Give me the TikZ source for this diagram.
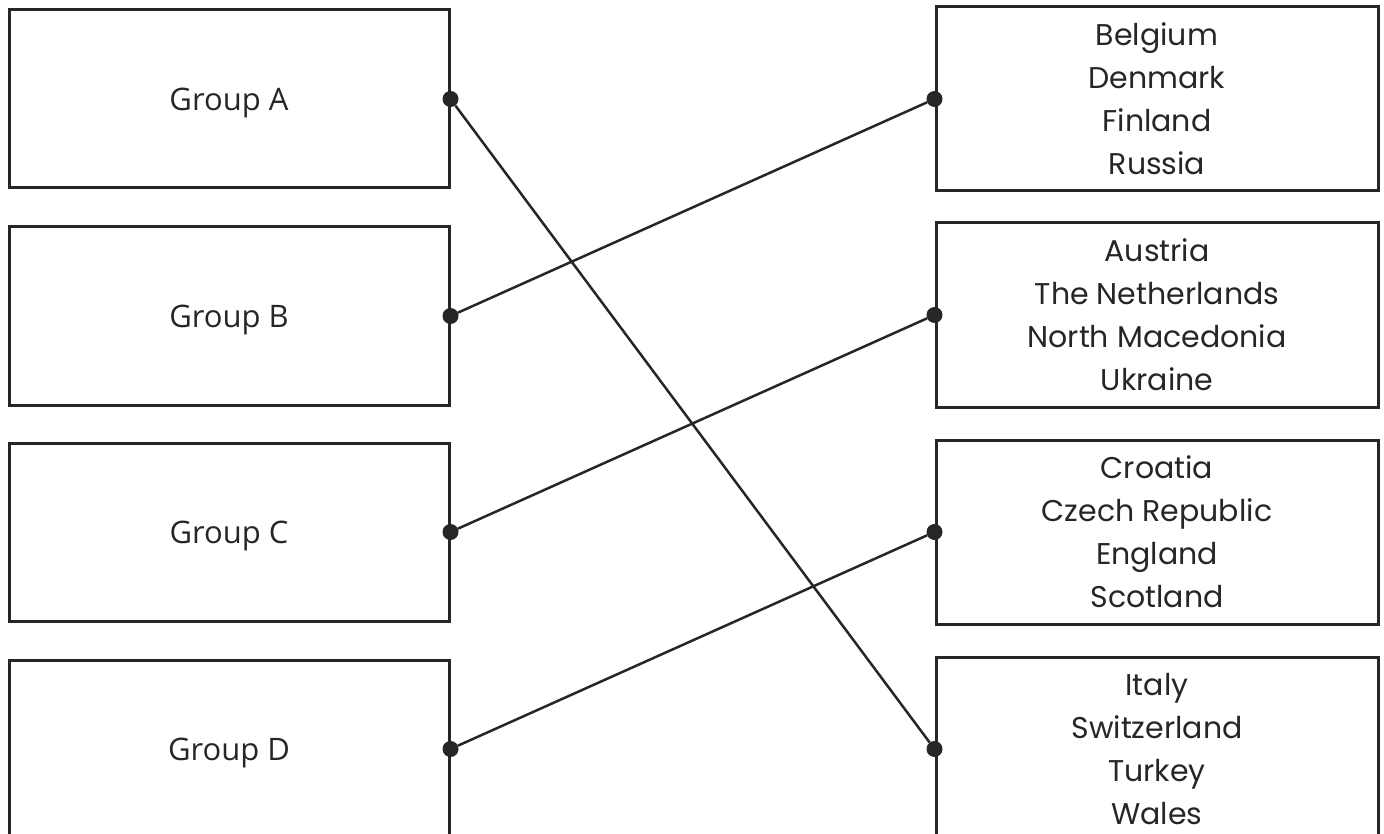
\documentclass[tikz,border=0pt]{standalone}
\usepackage{fontspec}
\setmainfont{Open Sans}
\newfontfamily\listfont{Poppins}
\definecolor{inkgrey}{HTML}{262626}

\tikzset{
    groupbox/.style={rectangle, draw=inkgrey, line width=3pt, minimum width=440pt, minimum height=178pt, text=inkgrey, text depth=0pt, font=\fontsize{31}{37}\selectfont},
    teambox/.style={rectangle, draw=inkgrey, line width=3pt, minimum width=442pt, minimum height=184pt, align=center, text=inkgrey, font=\listfont\fontsize{30}{43}\selectfont},
    blob/.style={circle, fill=inkgrey, inner sep=0pt, minimum size=16pt},
    link/.style={draw=inkgrey, line width=2.5pt}
}

\begin{document}
\begin{tikzpicture}[x=1pt, y=-1pt]
    \clip (0, 0) rectangle (1384, 834);
    \node[groupbox] (ga) at (229, 99)  {Group A};
    \node[groupbox] (gb) at (229, 316) {Group B};
    \node[groupbox] (gc) at (229, 532) {Group C};
    \node[groupbox] (gd) at (229, 749) {Group D};

    \node[teambox] (t1) at (1157, 99)  {Belgium\\Denmark\\Finland\\Russia};
    \node[teambox] (t2) at (1157, 315) {Austria\\The Netherlands\\North Macedonia\\Ukraine};
    \node[teambox] (t3) at (1157, 532) {Croatia\\Czech Republic\\England\\Scotland};
    \node[teambox] (t4) at (1157, 749) {Italy\\Switzerland\\Turkey\\Wales};

    \node[blob] (pa) at (ga.east) {};
    \node[blob] (pb) at (gb.east) {};
    \node[blob] (pc) at (gc.east) {};
    \node[blob] (pd) at (gd.east) {};
    \node[blob] (q1) at (t1.west) {};
    \node[blob] (q2) at (t2.west) {};
    \node[blob] (q3) at (t3.west) {};
    \node[blob] (q4) at (t4.west) {};

    \draw[link] (pa) -- (q4);
    \draw[link] (pb) -- (q1);
    \draw[link] (pc) -- (q2);
    \draw[link] (pd) -- (q3);
\end{tikzpicture}
\end{document}
